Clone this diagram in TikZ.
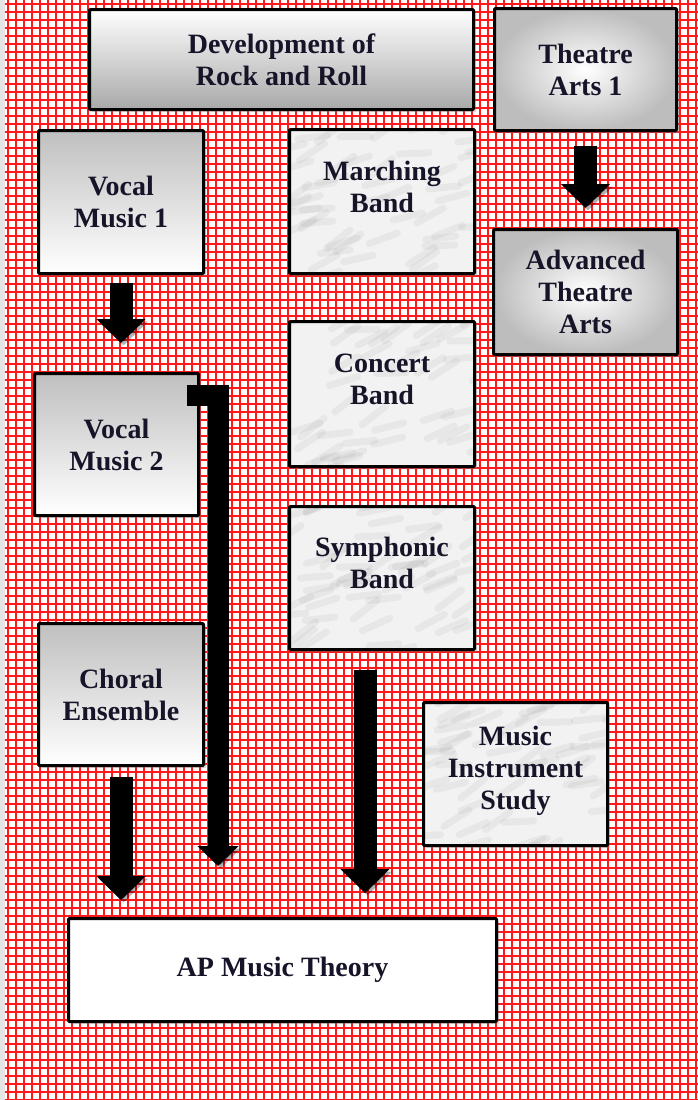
\documentclass[tikz,border=0pt]{standalone}
\usepackage{fontspec}
\setmainfont{Liberation Serif}
\usetikzlibrary{shadows,arrows.meta,calc}
\definecolor{gridred}{RGB}{255,24,24}
\definecolor{ink}{RGB}{22,20,40}
\tikzset{
    course/.style={draw=black, line width=3pt, anchor=north west, align=center,
        inner sep=0pt, rounded corners=1pt, text=ink,
        font=\bfseries\fontsize{28}{32}\selectfont,
        drop shadow={opacity=.35, shadow xshift=2.5pt, shadow yshift=-2.5pt}}
}
\tikzset{
    fadedown/.style={course, top color=white, bottom color=black!34},
    fadeup/.style={course, top color=black!25, bottom color=white},
    spot/.style={course, inner color=white, outer color=black!26},
    blank/.style={course, fill=white},
    marble/.style={course, fill=black!5, text depth=30pt,
        path picture={
            \foreach \k in {1,...,55}{
                \pgfmathsetmacro\mx{rnd*210-15}
                \pgfmathsetmacro\my{rnd*165-10}
                \pgfmathsetmacro\ma{-rnd*40}
                \draw[black, opacity=.045, line width=7pt, line cap=round]
                    ($(path picture bounding box.north west)+(\mx,\my)$)
                    -- ++(\ma:30);
            }
        }}
}
\tikzset{
    bigarrow/.style={line width=23pt, black,
        -{Triangle[width=48pt,length=24pt]},
        preaction={draw=black, opacity=.3,
            transform canvas={shift={(2.5pt,-2.5pt)}}}}
}
\pgfmathsetseed{7}

\begin{document}
\begin{tikzpicture}[x=1pt, y=-1pt]
	\useasboundingbox (0,0) rectangle (698,1100);
	\fill[white] (0,0) rectangle (698,1100);
	\fill[black!10] (0,0) rectangle (5,1100);
	% red grid paper
	\foreach \gx in {8,16,...,698}
		\draw[gridred, line width=1.9pt] (\gx,0) -- (\gx,1100);
	\foreach \gy in {4,12,...,1100}
		\draw[gridred, line width=1.9pt] (5,\gy) -- (698,\gy);

	\node (rock) [fadedown, minimum width=384pt, minimum height=100pt] at (88,8)
		{Development of\\Rock and Roll};
	\node (ta1) [spot, minimum width=182pt, minimum height=122pt] at (493,7)
		{Theatre\\Arts 1};
	\node (vm1) [fadeup, minimum width=165pt, minimum height=143pt] at (37,129)
		{Vocal\\Music 1};
	\node (mb) [marble, minimum width=185pt, minimum height=144pt] at (288,128)
		{Marching\\Band};
	\node (ata) [spot, minimum width=184pt, minimum height=125pt] at (492,228)
		{Advanced\\Theatre\\Arts};
	\node (cb) [marble, minimum width=185pt, minimum height=145pt] at (288,320)
		{Concert\\Band};
	\node (vm2) [fadeup, minimum width=164pt, minimum height=142pt] at (33,372)
		{Vocal\\Music 2};
	\node (sb) [marble, minimum width=185pt, minimum height=143pt] at (288,505)
		{Symphonic\\Band};
	\node (ce) [fadeup, minimum width=165pt, minimum height=142pt] at (37,622)
		{Choral\\Ensemble};
	\node (mis) [marble, text depth=12pt, minimum width=184pt, minimum height=143pt]
		at (422,701) {Music\\Instrument\\Study};
	\node (ap) [blank, minimum width=428pt, minimum height=103pt] at (67,917)
		{AP Music Theory};

	\coordinate (stub) at (187,395);
	\coordinate (bend) at (218,395);

	\draw[bigarrow, shorten <=14pt, shorten >=20pt] (ta1.south) -- (ata.north);
	\draw[bigarrow, shorten <=8pt, shorten >=29pt] (vm1.south) -- (vm1.south |- vm2.north);
	\draw[bigarrow, shorten <=10pt, shorten >=17pt] (ce.south) -- (ce.south |- ap.north);
	\draw[bigarrow, line width=21pt, -{Triangle[width=40pt,length=20pt]},
		shorten >=51pt] (stub) -- (bend) -- (bend |- ap.north);
	\draw[bigarrow, shorten <=19pt, shorten >=24pt]
		($(sb.south)+(-17,0)$) -- ($(sb.south |- ap.north)+(-17,0)$);
\end{tikzpicture}
\end{document}
